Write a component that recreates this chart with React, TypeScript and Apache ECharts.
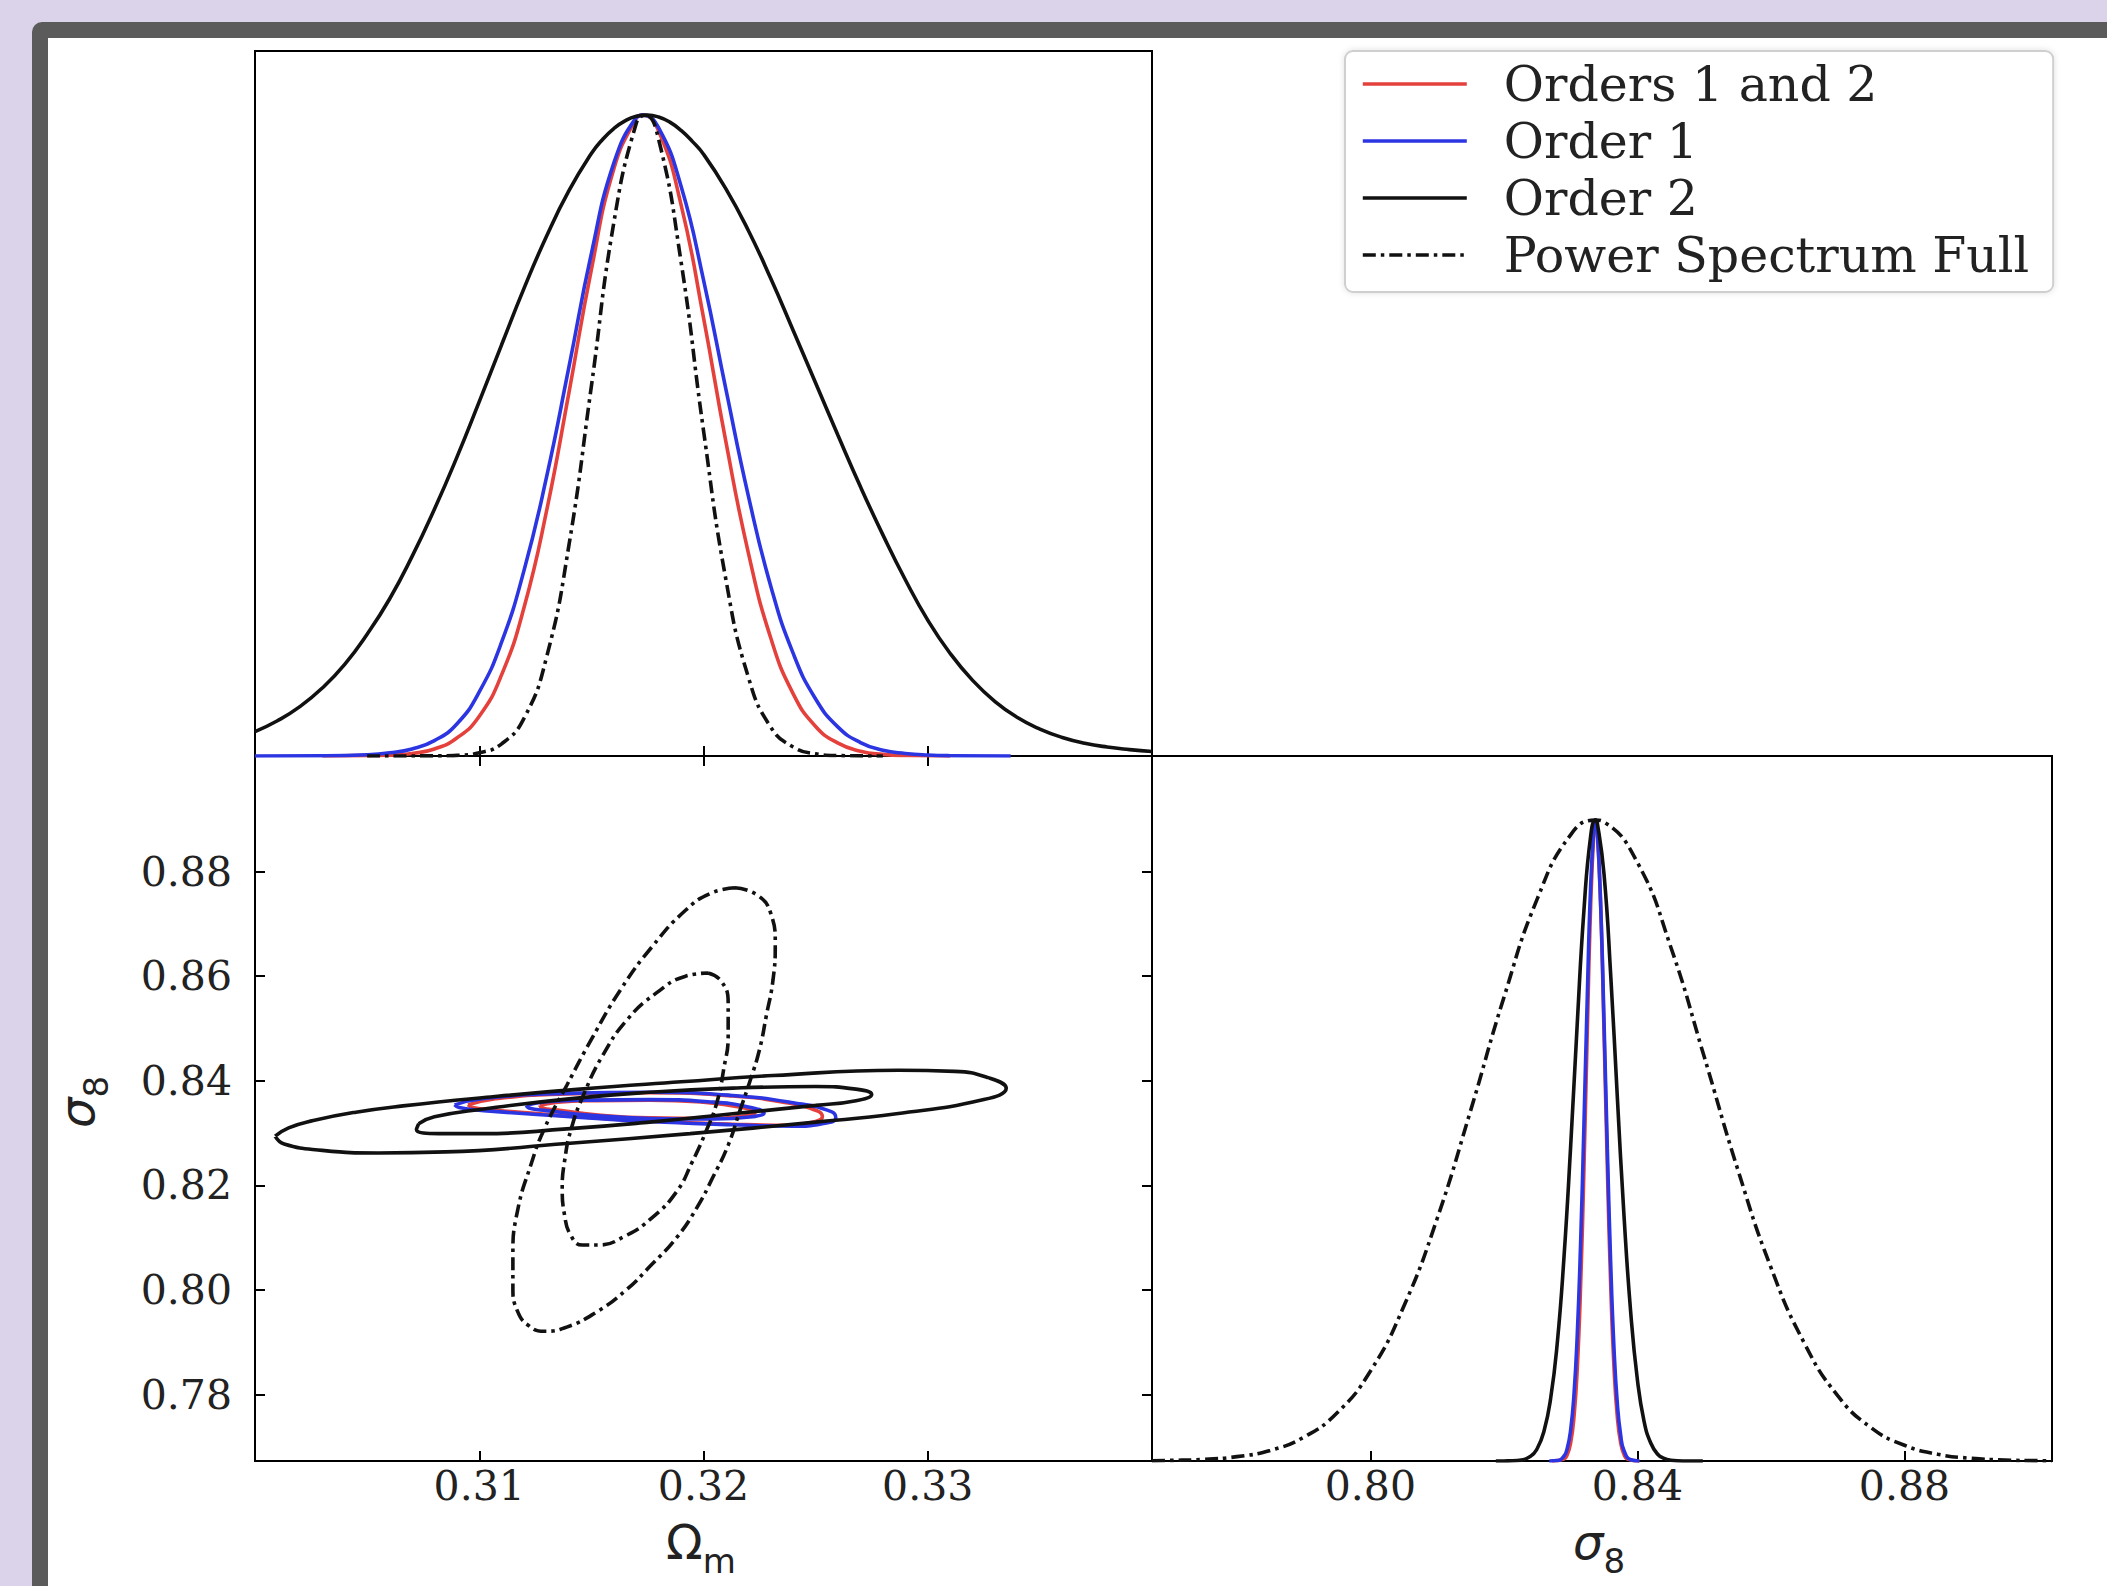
import React, { useEffect, useRef } from "react";
import * as echarts from "echarts";

// ---------- axes / ticks ----------
const omegaRange = [0.3, 0.34];
const sigmaRange = [0.7673, 0.9021];
const densityRange = [0, 1.1];
const omegaTicks = [0.31, 0.32, 0.33];
const sigmaTicksY = [0.78, 0.8, 0.82, 0.84, 0.86, 0.88];
const sigmaTicksX = [0.8, 0.84, 0.88];
const seriesNames = ["Orders 1 and 2", "Order 1", "Order 2", "Power Spectrum Full"];

// ---------- 1D marginals: Omega_m ----------
const omegaMargOrders12 = [[0.303,0],[0.306,0.0013],[0.307,0.004],[0.308,0.011],[0.309,0.028],[0.31,0.062],[0.311,0.127],[0.312,0.232],[0.313,0.382],[0.314,0.567],[0.315,0.759],[0.316,0.916],[0.317,0.995],[0.3173,1.0],[0.318,0.975],[0.319,0.86],[0.32,0.684],[0.321,0.49],[0.322,0.317],[0.323,0.184],[0.324,0.097],[0.325,0.046],[0.326,0.02],[0.327,0.0075],[0.328,0.0025],[0.329,0.0007],[0.331,0]];
const omegaMargOrder1 = [[0.3,0],[0.303,0.0003],[0.305,0.002],[0.306,0.005],[0.307,0.011],[0.308,0.024],[0.309,0.05],[0.31,0.1],[0.311,0.178],[0.312,0.29],[0.313,0.435],[0.314,0.607],[0.315,0.784],[0.316,0.925],[0.317,0.996],[0.3173,1.0],[0.318,0.98],[0.319,0.889],[0.32,0.743],[0.321,0.572],[0.322,0.406],[0.323,0.265],[0.324,0.16],[0.325,0.089],[0.326,0.045],[0.327,0.021],[0.328,0.009],[0.329,0.004],[0.33,0.0015],[0.331,0.0005],[0.3337,0]];
const omegaMargOrder2 = [[0.3,0.038],[0.301,0.055],[0.302,0.077],[0.303,0.106],[0.304,0.143],[0.305,0.19],[0.306,0.245],[0.307,0.311],[0.308,0.385],[0.309,0.466],[0.31,0.553],[0.311,0.642],[0.312,0.73],[0.313,0.811],[0.314,0.882],[0.315,0.94],[0.3155,0.962],[0.316,0.979],[0.3165,0.991],[0.317,0.998],[0.3175,1.0],[0.318,0.997],[0.3185,0.989],[0.319,0.976],[0.3195,0.959],[0.32,0.939],[0.321,0.885],[0.322,0.82],[0.323,0.745],[0.324,0.664],[0.325,0.582],[0.326,0.5],[0.327,0.42],[0.328,0.345],[0.329,0.275],[0.33,0.212],[0.331,0.16],[0.332,0.118],[0.333,0.085],[0.334,0.06],[0.335,0.042],[0.336,0.029],[0.337,0.02],[0.338,0.014],[0.339,0.01],[0.34,0.007]];
const omegaMargPS = [[0.305,0],[0.308,0.0002],[0.309,0.001],[0.31,0.005],[0.311,0.019],[0.312,0.059],[0.313,0.154],[0.314,0.329],[0.315,0.577],[0.316,0.832],[0.317,0.987],[0.3174,1.0],[0.318,0.962],[0.319,0.771],[0.32,0.508],[0.321,0.275],[0.322,0.123],[0.323,0.045],[0.324,0.014],[0.325,0.0034],[0.326,0.0007],[0.328,0]];

// ---------- 1D marginals: sigma_8 ----------
const sigmaMargOrders12 = [[0.8272,0],[0.829,0.003],[0.8295,0.01],[0.83,0.028],[0.8305,0.068],[0.831,0.145],[0.8315,0.275],[0.832,0.458],[0.8325,0.671],[0.833,0.866],[0.8335,0.984],[0.83375,1.0],[0.834,0.984],[0.8345,0.866],[0.835,0.671],[0.8355,0.458],[0.836,0.275],[0.8365,0.145],[0.837,0.068],[0.8375,0.028],[0.838,0.01],[0.8385,0.003],[0.8403,0]];
const sigmaMargOrder1 = [[0.8268,0],[0.828,0.0007],[0.829,0.0074],[0.8295,0.02],[0.83,0.048],[0.8305,0.103],[0.831,0.198],[0.8315,0.341],[0.832,0.526],[0.8325,0.726],[0.833,0.897],[0.8335,0.991],[0.8337,1.0],[0.834,0.98],[0.8345,0.868],[0.835,0.687],[0.8355,0.487],[0.836,0.309],[0.8365,0.175],[0.837,0.089],[0.8375,0.04],[0.838,0.016],[0.839,0.002],[0.8403,0]];
const sigmaMargOrder2 = [[0.8188,0],[0.82,0.0001],[0.822,0.0008],[0.824,0.0075],[0.825,0.0195],[0.826,0.046],[0.827,0.097],[0.828,0.184],[0.829,0.317],[0.83,0.49],[0.831,0.684],[0.832,0.86],[0.833,0.975],[0.8337,1.0],[0.834,0.995],[0.835,0.916],[0.836,0.759],[0.837,0.567],[0.838,0.382],[0.839,0.232],[0.84,0.127],[0.841,0.062],[0.842,0.028],[0.843,0.011],[0.844,0.004],[0.845,0.0013],[0.847,0.0001],[0.8498,0]];
const sigmaMargPS = [[0.7673,0.0005],[0.77,0.0009],[0.775,0.0026],[0.78,0.0068],[0.785,0.0165],[0.79,0.037],[0.795,0.075],[0.8,0.14],[0.805,0.241],[0.81,0.378],[0.815,0.546],[0.82,0.723],[0.825,0.877],[0.83,0.977],[0.8337,1.0],[0.835,0.997],[0.84,0.934],[0.845,0.802],[0.85,0.631],[0.855,0.456],[0.86,0.302],[0.865,0.184],[0.87,0.102],[0.875,0.052],[0.88,0.0245],[0.885,0.0105],[0.89,0.0042],[0.895,0.0015],[0.9,0.0005],[0.9021,0.0003]];

// ---------- 2D contours (Omega_m, sigma_8) ----------
const contOrders12Outer = [[0.3095,0.8354],[0.3106,0.8365],[0.3139,0.8375],[0.3176,0.8377],[0.3213,0.8371],[0.3237,0.8358],[0.3251,0.8342],[0.3253,0.8331],[0.3248,0.832],[0.3237,0.8315],[0.3213,0.8317],[0.3176,0.8323],[0.3139,0.8333],[0.3106,0.8344],[0.3097,0.8349],[0.3095,0.8354]];
const contOrders12Inner = [[0.3127,0.8353],[0.3135,0.8359],[0.3152,0.8362],[0.3176,0.8363],[0.32,0.8359],[0.3216,0.835],[0.3223,0.8339],[0.3219,0.8333],[0.3203,0.8328],[0.3176,0.8329],[0.3152,0.8335],[0.3135,0.8344],[0.3128,0.8348],[0.3127,0.8353]];
const contOrder1Outer = [[0.3089,0.8354],[0.3102,0.8366],[0.3139,0.8376],[0.3176,0.8378],[0.3213,0.8372],[0.324,0.8358],[0.3257,0.8341],[0.3259,0.8329],[0.3253,0.8318],[0.324,0.8313],[0.3213,0.8316],[0.3176,0.8322],[0.3139,0.8332],[0.3102,0.8343],[0.3091,0.8349],[0.3089,0.8354]];
const contOrder1Inner = [[0.3121,0.8353],[0.313,0.836],[0.315,0.8363],[0.3176,0.8364],[0.3202,0.836],[0.322,0.835],[0.3227,0.8338],[0.3223,0.8332],[0.3205,0.8327],[0.3176,0.8328],[0.315,0.8334],[0.313,0.8343],[0.3122,0.8348],[0.3121,0.8353]];
const contOrder2Outer = [[0.3009,0.8294],[0.3015,0.831],[0.3026,0.8324],[0.3045,0.834],[0.3066,0.8352],[0.3105,0.8369],[0.3145,0.8384],[0.319,0.8398],[0.3231,0.841],[0.3287,0.842],[0.3312,0.8418],[0.3327,0.8406],[0.3335,0.8386],[0.3325,0.8364],[0.3286,0.8337],[0.325,0.8321],[0.3194,0.8299],[0.3139,0.828],[0.3085,0.8264],[0.3055,0.8262],[0.303,0.8267],[0.3013,0.8279],[0.3009,0.8294]];
const contOrder2Inner = [[0.3073,0.8318],[0.308,0.8331],[0.3102,0.8346],[0.3139,0.8365],[0.3176,0.8378],[0.3213,0.8386],[0.325,0.8389],[0.3268,0.8384],[0.3275,0.8374],[0.3268,0.8362],[0.325,0.8353],[0.3213,0.8337],[0.3176,0.8321],[0.3139,0.8308],[0.3102,0.8299],[0.3082,0.8299],[0.3072,0.8307],[0.3073,0.8318]];
const contPSOuter = [[0.3214,0.8769],[0.3224,0.8755],[0.323,0.872],[0.3232,0.8663],[0.3231,0.8593],[0.3228,0.8524],[0.3225,0.846],[0.3221,0.8403],[0.3216,0.834],[0.3211,0.8277],[0.3204,0.8214],[0.3197,0.8157],[0.3188,0.81],[0.3177,0.8049],[0.3165,0.7998],[0.3152,0.7957],[0.3139,0.7929],[0.3129,0.7921],[0.3122,0.7932],[0.3117,0.796],[0.3115,0.8005],[0.3115,0.8068],[0.3117,0.815],[0.3123,0.8239],[0.3129,0.8308],[0.3139,0.8391],[0.315,0.8479],[0.3163,0.8574],[0.3177,0.8656],[0.3192,0.8726],[0.3203,0.8758],[0.3214,0.8769]];
const contPSInner = [[0.3202,0.8606],[0.3208,0.859],[0.3211,0.8549],[0.3211,0.8486],[0.3209,0.8422],[0.3206,0.8359],[0.3201,0.8302],[0.3195,0.8245],[0.3188,0.8188],[0.3177,0.8138],[0.3165,0.8103],[0.3153,0.8086],[0.3146,0.8086],[0.3141,0.8103],[0.3138,0.8144],[0.3137,0.8195],[0.3138,0.8245],[0.3141,0.8308],[0.3147,0.8378],[0.3155,0.8448],[0.3166,0.8517],[0.3179,0.8568],[0.3192,0.86],[0.3202,0.8606]];

const RED = "#e5413c";
const BLUE = "#2b35e2";
const BLACK = "#111111";
const DASHDOT = [13, 5, 3.5, 5];
const LINE_W = 3.6;
const FONT_SERIF = "DejaVu Serif";
const FONT_SANS = "DejaVu Sans";

function mkLine(name: string, data: number[][], xi: number, yi: number, color: string, dashed: boolean) {
  return {
    type: "line",
    name,
    data,
    xAxisIndex: xi,
    yAxisIndex: yi,
    smooth: true,
    symbol: "none",
    showSymbol: false,
    silent: true,
    clip: true,
    lineStyle: { color, width: LINE_W, type: dashed ? DASHDOT : "solid" },
    itemStyle: { color },
  };
}

function tickStyle(values: number[], len = 10) {
  return { show: true, inside: true, length: len, customValues: values, lineStyle: { color: "#000", width: 2 } };
}

function subLabel(x: number, y: number, main: string, sub: string, italic: boolean, rotation = 0) {
  return {
    type: "text", x, y, rotation, silent: true,
    style: {
      text: `{s|${main}}{b|${sub}}`, align: "center", verticalAlign: "middle", fill: "#222",
      rich: {
        s: { fontFamily: FONT_SANS, fontStyle: italic ? "italic" : "normal", fontSize: 48, verticalAlign: "bottom", padding: [0, 0, 12, 0], fill: "#222" },
        b: { fontFamily: FONT_SANS, fontSize: 34, verticalAlign: "bottom", fill: "#222" },
      },
    },
  };
}

export default function App() {
  const ref = useRef<HTMLDivElement>(null);
  useEffect(() => {
    if (!ref.current) return;
    const chart = echarts.init(ref.current, null, { renderer: "svg" });
    const labelStyle = (values: number[], margin: number) => ({
      show: true,
      customValues: values,
      margin,
      fontFamily: FONT_SERIF,
      fontSize: 41,
      color: "#222",
      formatter: (v: number) => v.toFixed(2),
    });
    const hiddenAxis = (gridIndex: number, range: number[]) => ({
      type: "value",
      gridIndex,
      min: range[0],
      max: range[1],
      axisLine: { show: false },
      axisTick: { show: false },
      axisLabel: { show: false },
      splitLine: { show: false },
    });
    const gridBase = { show: true, borderColor: "#000", borderWidth: 2, backgroundColor: "transparent" };
    const option = {
      animation: false,
      backgroundColor: "#dad3e9",
      graphic: [
        { type: "rect", z: -10, silent: true, shape: { x: 32, y: 22, width: 2300, height: 1800, r: 10 }, style: { fill: "#5b5b5b" } },
        { type: "rect", z: -9, silent: true, shape: { x: 48, y: 38, width: 2300, height: 1800 }, style: { fill: "#ffffff" } },
        subLabel(83, 1102, "σ", "8", true, Math.PI / 2),
        subLabel(701, 1548, "Ω", "m", false),
        subLabel(1599, 1548, "σ", "8", true),
      ],
      legend: {
        data: seriesNames,
        orient: "vertical",
        left: 1345,
        top: 51,
        padding: [8, 24, 12, 16],
        itemWidth: 104,
        itemHeight: 14,
        itemGap: 7,
        backgroundColor: "#ffffff",
        borderColor: "#cfcfcf",
        borderWidth: 2,
        borderRadius: 8,
        shadowBlur: 6,
        shadowColor: "rgba(0,0,0,0.12)",
        selectedMode: false,
        itemStyle: { opacity: 0 },
        lineStyle: { width: LINE_W },
        textStyle: { fontFamily: FONT_SERIF, fontSize: 49, color: "#222", lineHeight: 50, padding: [0, 0, 0, 32] },
      },
      grid: [
        { ...gridBase, left: 255, top: 51, width: 897, height: 705 },
        { ...gridBase, left: 255, top: 756, width: 897, height: 705 },
        { ...gridBase, left: 1152, top: 756, width: 900, height: 705 },
      ],
      xAxis: [
        { ...hiddenAxis(0, omegaRange), position: "bottom", axisTick: tickStyle(omegaTicks) },
        { ...hiddenAxis(1, omegaRange), position: "bottom", axisTick: tickStyle(omegaTicks), axisLabel: labelStyle(omegaTicks, 4) },
        { ...hiddenAxis(1, omegaRange), position: "top", axisTick: tickStyle(omegaTicks) },
        { ...hiddenAxis(2, sigmaRange), position: "bottom", axisTick: tickStyle(sigmaTicksX), axisLabel: labelStyle(sigmaTicksX, 4) },
      ],
      yAxis: [
        { ...hiddenAxis(0, densityRange) },
        { ...hiddenAxis(1, sigmaRange), position: "left", axisTick: tickStyle(sigmaTicksY), axisLabel: labelStyle(sigmaTicksY, 23) },
        { ...hiddenAxis(1, sigmaRange), position: "right", axisTick: tickStyle(sigmaTicksY) },
        { ...hiddenAxis(2, densityRange) },
      ],
      series: [
        // Omega_m marginals (top-left)
        mkLine(seriesNames[0], omegaMargOrders12, 0, 0, RED, false),
        mkLine(seriesNames[1], omegaMargOrder1, 0, 0, BLUE, false),
        mkLine(seriesNames[2], omegaMargOrder2, 0, 0, BLACK, false),
        mkLine(seriesNames[3], omegaMargPS, 0, 0, BLACK, true),
        // 2D contours (bottom-left)
        mkLine(seriesNames[0], contOrders12Outer, 1, 1, RED, false),
        mkLine(seriesNames[0], contOrders12Inner, 1, 1, RED, false),
        mkLine(seriesNames[1], contOrder1Outer, 1, 1, BLUE, false),
        mkLine(seriesNames[1], contOrder1Inner, 1, 1, BLUE, false),
        mkLine(seriesNames[2], contOrder2Outer, 1, 1, BLACK, false),
        mkLine(seriesNames[2], contOrder2Inner, 1, 1, BLACK, false),
        mkLine(seriesNames[3], contPSOuter, 1, 1, BLACK, true),
        mkLine(seriesNames[3], contPSInner, 1, 1, BLACK, true),
        // sigma_8 marginals (bottom-right)
        mkLine(seriesNames[0], sigmaMargOrders12, 3, 3, RED, false),
        mkLine(seriesNames[1], sigmaMargOrder1, 3, 3, BLUE, false),
        mkLine(seriesNames[2], sigmaMargOrder2, 3, 3, BLACK, false),
        mkLine(seriesNames[3], sigmaMargPS, 3, 3, BLACK, true),
      ],
    };
    chart.setOption(option as any);
    return () => chart.dispose();
  }, []);
  return <div ref={ref} style={{ position: "fixed", left: 0, top: 0, width: 2107, height: 1586 }} />;
}
